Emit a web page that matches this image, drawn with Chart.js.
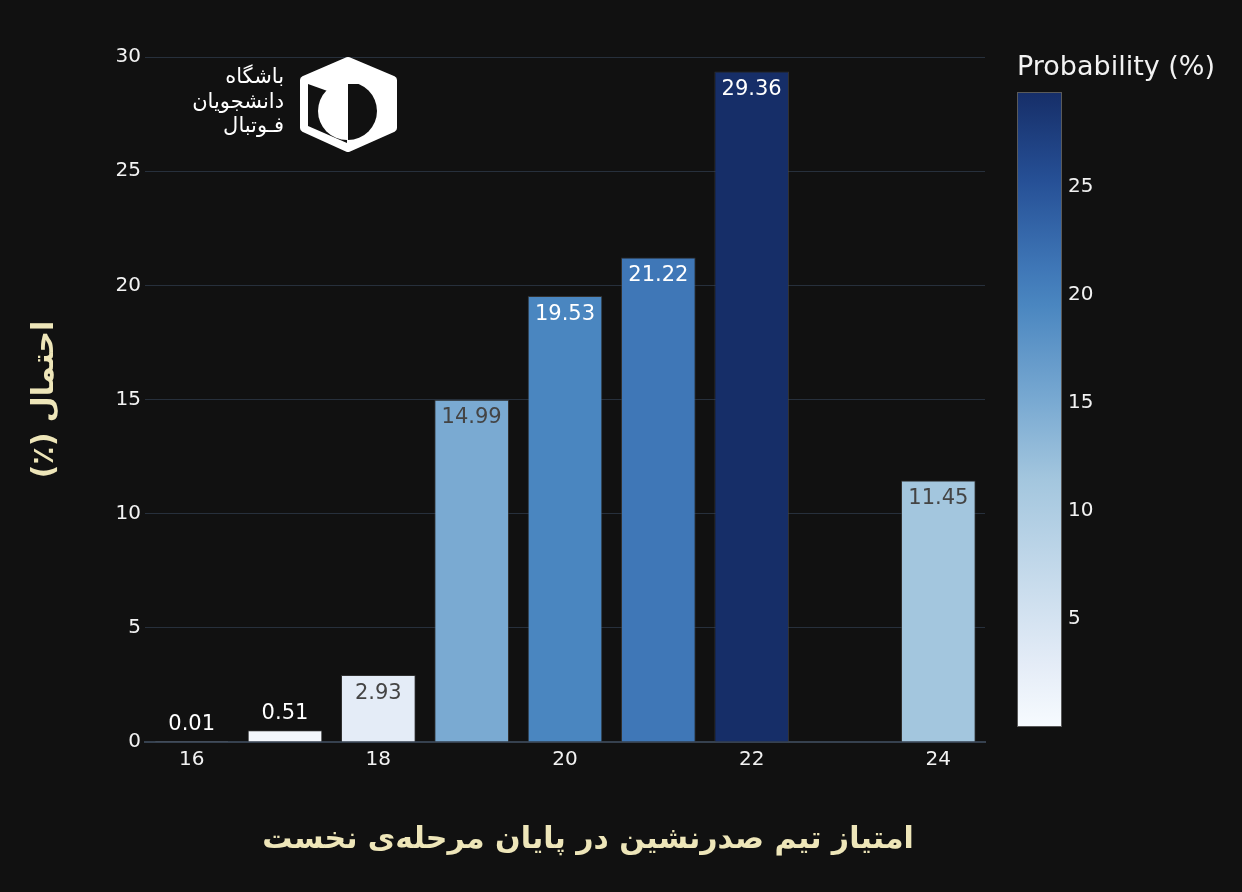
<!DOCTYPE html>
<html>
<head>
<meta charset="utf-8">
<script src="https://cdn.jsdelivr.net/npm/chart.js@4.4.1/dist/chart.umd.min.js"></script>
<style>
  html, body { margin: 0; background: #111111; }
  #wrap { width: 1242px; height: 892px; }
</style>
</head>
<body>
<div id="wrap"><canvas id="chart" width="1242" height="892"></canvas></div>
<script>
const points = ["16", "17", "18", "19", "20", "21", "22", "23", "24"];
const probability = [0.01, 0.51, 2.93, 14.99, 19.53, 21.22, 29.36, null, 11.45];
const yTicks = [0, 5, 10, 15, 20, 25, 30];
const colorbarTicks = [5, 10, 15, 20, 25];

const xTitle = "امتیاز تیم صدرنشین در پایان مرحله‌ی نخست";
const yTitle = "احتمال (٪)";
const cbTitle = "Probability (%)";
const logoLines = ["باشگاه", "دانشجویان", "فـوتبال"];

const FONT = "'DejaVu Sans', Verdana, sans-serif";
const TITLE_COLOR = "#eee6b9";

// colour scale (light -> dark blue)
const stops = [
    [0.0, [247, 251, 255]],
    [0.02, [243, 248, 253]],
    [0.1, [228, 236, 247]],
    [0.39, [163, 198, 222]],
    [0.51, [122, 170, 210]],
    [0.665, [74, 134, 192]],
    [0.722, [63, 119, 183]],
    [0.86, [38, 80, 150]],
    [1.0, [22, 46, 104]]
];

const shown = probability.filter(v => v !== null);
const cmin = Math.min(...shown);
const cmax = Math.max(...shown);

function scaleColor(v) {
    let t = (v - cmin) / (cmax - cmin);
    t = Math.max(0, Math.min(1, t));
    for (let i = 1; i < stops.length; i++) {
        if (t <= stops[i][0]) {
            const a = stops[i - 1], b = stops[i];
            const f = (t - a[0]) / (b[0] - a[0]);
            return a[1].map((x, k) => Math.round(x + (b[1][k] - x) * f));
        }
    }
    return stops[stops.length - 1][1];
}

const rgb = c => "rgb(" + c.join(",") + ")";
const barColors = probability.map(v => v === null ? "transparent" : rgb(scaleColor(v)));

const decor = {
    id: "decor",
    beforeDraw(chart) {
        const ctx = chart.ctx;
        ctx.save();
        ctx.fillStyle = "#111111";
        ctx.fillRect(0, 0, chart.width, chart.height);
        ctx.restore();
    },
    afterDatasetsDraw(chart) {
        const ctx = chart.ctx;
        const meta = chart.getDatasetMeta(0);
        ctx.save();
        ctx.font = "21px " + FONT;
        ctx.textAlign = "center";
        ctx.textBaseline = "middle";
        meta.data.forEach((bar, i) => {
            const v = probability[i];
            if (v === null) return;
            const h = bar.base - bar.y;
            const txt = v.toFixed(2);
            if (h > 40) {
                const c = scaleColor(v);
                const lum = 0.299 * c[0] + 0.587 * c[1] + 0.114 * c[2];
                ctx.fillStyle = lum > 150 ? "#444444" : "#ffffff";
                ctx.fillText(txt, bar.x, bar.y + 18);
            } else {
                ctx.fillStyle = "#ffffff";
                ctx.fillText(txt, bar.x, bar.y - 17);
            }
        });
        ctx.restore();
    },
    afterDraw(chart) {
        const ctx = chart.ctx;
        const area = chart.chartArea;
        ctx.save();

        // axis titles
        ctx.fillStyle = TITLE_COLOR;
        ctx.direction = "rtl";
        ctx.textAlign = "center";
        ctx.textBaseline = "middle";
        ctx.font = "bold 30px " + FONT;
        ctx.fillText(xTitle, 588, 840);
        ctx.save();
        ctx.translate(45, (area.top + area.bottom) / 2);
        ctx.rotate(-Math.PI / 2);
        ctx.fillText(yTitle, 0, 0);
        ctx.restore();

        // colorbar
        const cx = 1017, cw = 45, ctop = 92, cbot = 727;
        const grad = ctx.createLinearGradient(0, cbot, 0, ctop);
        stops.forEach(s => grad.addColorStop(s[0], rgb(s[1])));
        ctx.fillStyle = grad;
        ctx.fillRect(cx, ctop, cw, cbot - ctop);
        ctx.strokeStyle = "#5a5a5a";
        ctx.lineWidth = 1;
        ctx.strokeRect(cx + 0.5, ctop + 0.5, cw - 1, cbot - ctop - 1);
        ctx.direction = "ltr";
        ctx.fillStyle = "#f2f2f2";
        ctx.font = "20px " + FONT;
        ctx.textAlign = "left";
        colorbarTicks.forEach(t => {
            const y = cbot - (t - cmin) / (cmax - cmin) * (cbot - ctop);
            ctx.fillText(String(t), cx + cw + 6, y);
        });
        ctx.font = "27px " + FONT;
        ctx.fillText(cbTitle, cx, 68);

        // logo
        drawLogo(ctx);
        ctx.restore();
    }
};

function drawLogo(ctx) {
    ctx.save();
    ctx.fillStyle = "#ffffff";
    ctx.direction = "rtl";
    ctx.textAlign = "right";
    ctx.textBaseline = "middle";
    ctx.font = "21px " + FONT;
    logoLines.forEach((s, i) => ctx.fillText(s, 284, 78 + i * 24.5));

    // cube outline
    ctx.lineJoin = "round";
    ctx.strokeStyle = "#ffffff";
    ctx.lineWidth = 8;
    ctx.beginPath();
    ctx.moveTo(348, 61);
    ctx.lineTo(393, 80);
    ctx.lineTo(393, 128);
    ctx.lineTo(348, 148);
    ctx.lineTo(304, 128);
    ctx.lineTo(304, 80);
    ctx.closePath();
    ctx.fill();
    ctx.stroke();

    // left face black
    ctx.fillStyle = "#111111";
    ctx.beginPath();
    ctx.moveTo(308, 84);
    ctx.lineTo(347, 98);
    ctx.lineTo(347, 143);
    ctx.lineTo(308, 126);
    ctx.closePath();
    ctx.fill();

    // white half disc on the left face
    ctx.fillStyle = "#ffffff";
    ctx.beginPath();
    ctx.arc(347, 111, 29, Math.PI / 2, Math.PI * 1.5);
    ctx.closePath();
    ctx.fill();

    // black half disc on the right face
    ctx.save();
    ctx.beginPath();
    ctx.rect(340, 84, 60, 80);
    ctx.clip();
    ctx.fillStyle = "#111111";
    ctx.beginPath();
    ctx.arc(348, 111, 29, -Math.PI / 2, Math.PI / 2);
    ctx.closePath();
    ctx.fill();
    ctx.restore();
    ctx.restore();
}

new Chart(document.getElementById("chart"), {
    type: "bar",
    data: {
        labels: points,
        datasets: [{
            data: probability,
            backgroundColor: barColors,
            borderColor: "rgba(70,70,70,0.6)",
            borderWidth: 1,
            barPercentage: 0.8,
            categoryPercentage: 1.0
        }]
    },
    options: {
        responsive: false,
        animation: false,
        layout: { padding: { top: 57, right: 257, left: 0, bottom: 0 } },
        plugins: {
            legend: { display: false },
            tooltip: { enabled: false }
        },
        scales: {
            x: {
                offset: true,
                grid: { display: false, drawTicks: false },
                border: { display: true, color: "#36414f", width: 2 },
                ticks: {
                    autoSkip: false,
                    maxRotation: 0,
                    padding: 6,
                    color: "#f2f2f2",
                    font: { family: FONT, size: 20 },
                    callback: function (val, i) {
                        const lab = points[i];
                        return Number(lab) % 2 === 0 ? lab : "";
                    }
                },
                afterFit: s => { s.height = 150; }
            },
            y: {
                min: yTicks[0],
                max: yTicks[yTicks.length - 1],
                afterBuildTicks: s => { s.ticks = yTicks.map(v => ({ value: v })); },
                grid: {
                    drawTicks: false,
                    color: ctx => ctx.tick && ctx.tick.value === 0 ? "transparent" : "#27303c",
                    lineWidth: 1
                },
                border: { display: false },
                ticks: {
                    padding: 4,
                    color: "#f2f2f2",
                    font: { family: FONT, size: 20 }
                },
                afterFit: s => { s.width = 145; }
            }
        }
    },
    plugins: [decor]
});
</script>
</body>
</html>
